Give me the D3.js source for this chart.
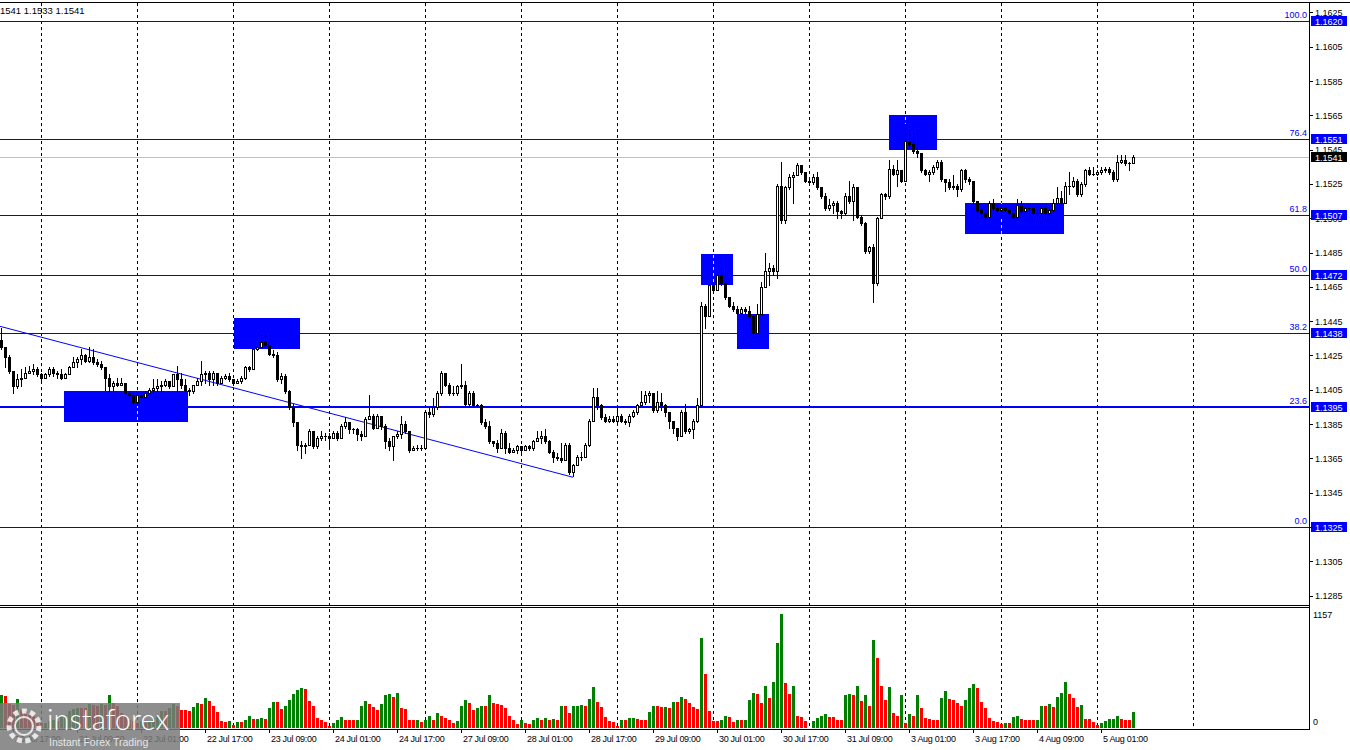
<!DOCTYPE html>
<html>
<head>
<meta charset="utf-8">
<script src="https://cdn.jsdelivr.net/npm/d3@7"></script>
<style>
body { margin: 0; background: #fff; }
svg { display: block; font-family: "Liberation Sans", Arial, sans-serif; }
</style>
</head>
<body>
<script>
// hourly bars, open of each bar = previous close
const firstOpen = 1.1434;
const closes = [
1.1430,1.1424,1.1416,1.1407,1.1411,1.1412,1.1415,1.1416,1.1417,1.1414,
1.1412,1.1414,1.1417,1.1415,1.1414,1.1412,1.1414,1.1418,1.1421,1.1423,
1.1425,1.1422,1.1424,1.1421,1.1420,1.1418,1.1412,1.1407,1.1409,1.1408,
1.1409,1.1403,1.1402,1.1398,1.1402,1.1401,1.1403,1.1405,1.1406,1.1407,
1.1408,1.1410,1.1407,1.1414,1.1411,1.1408,1.1405,1.1404,1.1408,1.1410,
1.1414,1.1415,1.1411,1.1415,1.1409,1.1412,1.1413,1.1411,1.1409,1.1410,
1.1412,1.1418,1.1417,1.1429,1.1430,1.1433,1.1431,1.1426,1.1425,1.1411,
1.1413,1.1404,1.1395,1.1386,1.1373,1.1372,1.1373,1.1381,1.1372,1.1377,
1.1378,1.1378,1.1377,1.1380,1.1377,1.1384,1.1386,1.1382,1.1382,1.1379,
1.1378,1.1388,1.1390,1.1383,1.1390,1.1384,1.1375,1.1372,1.1378,1.1379,
1.1385,1.1381,1.1370,1.1371,1.1371,1.1371,1.1392,1.1391,1.1395,1.1403,
1.1415,1.1408,1.1403,1.1403,1.1407,1.1408,1.1397,1.1403,1.1396,1.1396,
1.1386,1.1384,1.1375,1.1374,1.1371,1.1380,1.1371,1.1369,1.1370,1.1372,
1.1370,1.1372,1.1371,1.1375,1.1377,1.1378,1.1375,1.1369,1.1366,1.1365,
1.1364,1.1373,1.1357,1.1361,1.1366,1.1366,1.1373,1.1387,1.1401,1.1396,
1.1389,1.1387,1.1388,1.1387,1.1390,1.1387,1.1386,1.1390,1.1392,1.1396,
1.1398,1.1402,1.1403,1.1393,1.1398,1.1396,1.1392,1.1387,1.1383,1.1378,
1.1392,1.1381,1.1382,1.1387,1.1396,1.1454,1.1448,1.1466,1.1463,1.1472,
1.1467,1.1459,1.1454,1.1452,1.1450,1.1452,1.1451,1.1448,1.1438,1.1449,
1.1465,1.1474,1.1476,1.1474,1.1524,1.1504,1.1523,1.1529,1.1530,1.1536,
1.1532,1.1527,1.1526,1.1529,1.1523,1.1518,1.1511,1.1513,1.1514,1.1509,
1.1508,1.1518,1.1515,1.1523,1.1506,1.1502,1.1486,1.1488,1.1467,1.1505,
1.1519,1.1518,1.1534,1.1531,1.1533,1.1527,1.1550,1.1548,1.1544,1.1543,
1.1533,1.1531,1.1532,1.1535,1.1538,1.1528,1.1526,1.1523,1.1524,1.1522,
1.1533,1.1528,1.1527,1.1515,1.1510,1.1508,1.1506,1.1514,1.1511,1.1510,
1.1511,1.1510,1.1508,1.1506,1.1513,1.1509,1.1511,1.1511,1.1508,1.1508,
1.1511,1.1508,1.1510,1.1514,1.1517,1.1514,1.1524,1.1524,1.1527,1.1519,
1.1525,1.1533,1.1531,1.1531,1.1532,1.1533,1.1534,1.1532,1.1528,1.1538,
1.1539,1.1537,1.1537,1.1541];
const highs = [
1.1441,1.1430,1.1425,1.1416,1.1414,1.1417,1.1418,1.1419,1.1420,1.1418,
1.1415,1.1415,1.1418,1.1418,1.1416,1.1417,1.1415,1.1419,1.1424,1.1424,
1.1429,1.1426,1.1430,1.1429,1.1423,1.1422,1.1418,1.1414,1.1410,1.1412,
1.1412,1.1409,1.1404,1.1403,1.1403,1.1402,1.1404,1.1406,1.1411,1.1411,
1.1410,1.1411,1.1410,1.1414,1.1419,1.1415,1.1411,1.1406,1.1408,1.1412,
1.1422,1.1416,1.1416,1.1416,1.1415,1.1413,1.1414,1.1415,1.1411,1.1411,
1.1413,1.1419,1.1419,1.1430,1.1431,1.1437,1.1437,1.1431,1.1428,1.1427,
1.1415,1.1414,1.1405,1.1397,1.1386,1.1375,1.1374,1.1382,1.1381,1.1378,
1.1381,1.1380,1.1380,1.1381,1.1381,1.1385,1.1389,1.1386,1.1383,1.1383,
1.1381,1.1389,1.1402,1.1391,1.1391,1.1390,1.1385,1.1377,1.1378,1.1381,
1.1390,1.1387,1.1381,1.1372,1.1373,1.1373,1.1393,1.1395,1.1400,1.1404,
1.1416,1.1415,1.1409,1.1407,1.1408,1.1420,1.1410,1.1404,1.1404,1.1397,
1.1397,1.1388,1.1387,1.1375,1.1376,1.1382,1.1381,1.1374,1.1371,1.1373,
1.1372,1.1373,1.1373,1.1376,1.1381,1.1381,1.1382,1.1376,1.1370,1.1368,
1.1374,1.1374,1.1374,1.1362,1.1367,1.1369,1.1374,1.1388,1.1406,1.1406,
1.1397,1.1391,1.1390,1.1390,1.1396,1.1391,1.1388,1.1391,1.1393,1.1397,
1.1404,1.1404,1.1404,1.1402,1.1404,1.1403,1.1397,1.1391,1.1387,1.1383,
1.1393,1.1397,1.1383,1.1388,1.1400,1.1456,1.1455,1.1467,1.1468,1.1474,
1.1476,1.1468,1.1459,1.1456,1.1454,1.1453,1.1453,1.1454,1.1448,1.1455,
1.1468,1.1485,1.1479,1.1478,1.1525,1.1538,1.1524,1.1531,1.1532,1.1537,
1.1536,1.1532,1.1529,1.1531,1.1532,1.1523,1.1520,1.1516,1.1515,1.1515,
1.1510,1.1520,1.1527,1.1525,1.1523,1.1507,1.1503,1.1489,1.1490,1.1506,
1.1520,1.1520,1.1539,1.1536,1.1539,1.1531,1.1560,1.1557,1.1553,1.1557,
1.1542,1.1534,1.1533,1.1536,1.1539,1.1539,1.1528,1.1528,1.1530,1.1525,
1.1534,1.1534,1.1529,1.1527,1.1515,1.1511,1.1509,1.1515,1.1516,1.1513,
1.1512,1.1512,1.1510,1.1508,1.1516,1.1515,1.1512,1.1513,1.1511,1.1510,
1.1512,1.1512,1.1511,1.1516,1.1523,1.1521,1.1526,1.1532,1.1529,1.1528,
1.1526,1.1534,1.1535,1.1535,1.1533,1.1535,1.1535,1.1535,1.1533,1.1542,
1.1542,1.1542,1.1538,1.1542];
const lows = [
1.1429,1.1418,1.1415,1.1403,1.1406,1.1407,1.1412,1.1415,1.1414,1.1413,
1.1410,1.1412,1.1413,1.1413,1.1412,1.1411,1.1412,1.1414,1.1418,1.1418,
1.1420,1.1421,1.1421,1.1420,1.1419,1.1417,1.1405,1.1404,1.1404,1.1407,
1.1408,1.1400,1.1400,1.1397,1.1396,1.1400,1.1400,1.1403,1.1403,1.1404,
1.1404,1.1407,1.1406,1.1407,1.1404,1.1406,1.1404,1.1402,1.1403,1.1408,
1.1408,1.1409,1.1408,1.1408,1.1408,1.1409,1.1411,1.1410,1.1408,1.1409,
1.1409,1.1411,1.1416,1.1417,1.1428,1.1430,1.1430,1.1425,1.1424,1.1410,
1.1409,1.1403,1.1394,1.1384,1.1370,1.1365,1.1368,1.1374,1.1371,1.1371,
1.1376,1.1376,1.1372,1.1377,1.1376,1.1377,1.1383,1.1380,1.1380,1.1376,
1.1376,1.1378,1.1388,1.1382,1.1384,1.1382,1.1371,1.1370,1.1364,1.1377,
1.1377,1.1380,1.1369,1.1370,1.1370,1.1370,1.1371,1.1389,1.1390,1.1394,
1.1402,1.1407,1.1402,1.1402,1.1402,1.1406,1.1396,1.1395,1.1395,1.1395,
1.1385,1.1383,1.1374,1.1372,1.1369,1.1375,1.1368,1.1368,1.1369,1.1368,
1.1369,1.1370,1.1370,1.1370,1.1375,1.1374,1.1374,1.1368,1.1363,1.1364,
1.1363,1.1364,1.1356,1.1355,1.1361,1.1364,1.1367,1.1372,1.1387,1.1394,
1.1388,1.1386,1.1386,1.1386,1.1386,1.1386,1.1385,1.1384,1.1389,1.1391,
1.1396,1.1397,1.1398,1.1392,1.1392,1.1393,1.1390,1.1383,1.1380,1.1376,
1.1378,1.1380,1.1380,1.1377,1.1386,1.1395,1.1441,1.1449,1.1462,1.1463,
1.1466,1.1458,1.1453,1.1451,1.1449,1.1450,1.1450,1.1443,1.1435,1.1439,
1.1449,1.1465,1.1466,1.1472,1.1470,1.1502,1.1502,1.1522,1.1514,1.1530,
1.1531,1.1526,1.1525,1.1525,1.1522,1.1517,1.1510,1.1510,1.1508,1.1505,
1.1505,1.1507,1.1514,1.1504,1.1505,1.1501,1.1485,1.1485,1.1456,1.1466,
1.1505,1.1516,1.1517,1.1530,1.1524,1.1526,1.1527,1.1546,1.1543,1.1541,
1.1532,1.1530,1.1527,1.1531,1.1534,1.1527,1.1521,1.1522,1.1522,1.1518,
1.1521,1.1526,1.1525,1.1514,1.1505,1.1505,1.1503,1.1502,1.1510,1.1509,
1.1507,1.1509,1.1507,1.1505,1.1504,1.1508,1.1508,1.1508,1.1507,1.1506,
1.1507,1.1506,1.1507,1.1508,1.1513,1.1513,1.1514,1.1519,1.1523,1.1518,
1.1518,1.1524,1.1530,1.1530,1.1530,1.1531,1.1532,1.1531,1.1527,1.1527,
1.1537,1.1536,1.1533,1.1537];
const volumes = [
335,320,240,238,290,190,170,135,120,100,
50,55,70,85,70,120,135,170,190,205,
203,200,240,238,220,240,238,330,250,220,
150,120,85,70,50,70,50,70,100,135,
170,168,205,240,220,180,178,176,215,250,
248,300,270,225,160,70,60,70,35,65,
60,80,120,90,95,100,90,200,265,260,
190,220,285,345,385,405,395,270,225,100,
85,60,25,50,80,110,85,80,78,80,
225,270,240,215,180,240,330,345,315,360,
200,195,85,83,85,60,80,125,80,150,
125,100,85,50,75,220,285,250,185,200,
225,222,330,250,240,235,200,120,80,45,
85,55,45,85,100,80,100,85,88,80,
225,222,150,220,225,230,228,295,415,260,
215,115,70,65,25,80,78,100,105,95,
80,78,160,225,222,210,215,200,265,262,
315,295,250,215,195,915,550,175,75,72,
85,125,110,65,85,80,85,285,360,340,
255,425,305,470,860,1157,460,350,425,125,
110,75,5,75,100,125,145,115,113,85,
84,330,340,330,425,275,330,225,895,715,
425,285,420,155,120,335,50,145,125,330,
200,105,95,85,84,305,375,295,285,255,
225,285,405,445,405,265,205,105,75,60,
40,55,54,115,117,95,85,84,80,86,
225,222,245,215,315,355,467,350,300,215,
235,95,94,65,35,55,75,95,96,125,
95,85,84,160];

const fibLevels = ["0.0", "23.6", "38.2", "50.0", "61.8", "76.4", "100.0"];
const fibPrices = [1.1325, 1.1395, 1.1438, 1.1472, 1.1507, 1.1551, 1.1620];
const supportPrice = 1.1395;
const lastPrice = 1.1541;
const priceTicks = [1.1285, 1.1305, 1.1325, 1.1345, 1.1365, 1.1385, 1.1405, 1.1425, 1.1445,
  1.1465, 1.1485, 1.1505, 1.1525, 1.1545, 1.1565, 1.1585, 1.1605, 1.1625];
const volumeMax = 1157;

const timeLabelBars = [3, 19, 35, 51, 67, 83, 99, 115, 131, 147, 163, 179, 195, 211, 227, 243, 259, 275];
const timeLabels = ["20 Jul 17:00", "21 Jul 09:00", "22 Jul 01:00", "22 Jul 17:00", "23 Jul 09:00",
  "24 Jul 01:00", "24 Jul 17:00", "27 Jul 09:00", "28 Jul 01:00", "28 Jul 17:00", "29 Jul 09:00",
  "30 Jul 01:00", "30 Jul 17:00", "31 Jul 09:00", "3 Aug 01:00", "3 Aug 17:00", "4 Aug 09:00", "5 Aug 01:00"];
// day separators (00:00 bars)
const gridBars = [10, 34, 58, 82, 106, 130, 154, 178, 202, 226, 250, 274, 298];

// drawn zones: start bar, end bar, top price, bottom price
const boxStart = [15.75, 58.25, 175, 184, 222, 241];
const boxEnd = [46.75, 74.75, 183, 192, 234, 265.75];
const boxTop = [1.1404, 1.1447, 1.1484, 1.1449, 1.1565, 1.1514];
const boxBottom = [1.1386, 1.1429, 1.1466, 1.1429, 1.1545, 1.1496];

const trendBars = [-0.25, 143];
const trendPrices = [1.1442, 1.1354];

const headerText = "1541 1.1533 1.1541";

// layout
const W = 1350, H = 750;
const axisX = 1309;
const priceTop = 2, priceBottom = 604, volTop = 608, volBottom = 729;
const BLUE = "#0000ff";

const svg = d3.select("body").append("svg").attr("width", W).attr("height", H);
svg.append("rect").attr("width", W).attr("height", H).attr("fill", "#fff");

const x = d3.scaleLinear().domain([0, 283]).range([1, 1133]);
const y = d3.scaleLinear().domain([1.1325, 1.1620]).range([527, 21]);
const yv = d3.scaleLinear().domain([0, volumeMax]).range([728, 614]);

const defs = svg.append("defs");
defs.append("clipPath").attr("id", "pricePane")
  .append("rect").attr("x", 0).attr("y", priceTop).attr("width", axisX).attr("height", priceBottom - priceTop);
const boxClip = defs.append("clipPath").attr("id", "boxClip");
boxStart.forEach((b, i) => {
  boxClip.append("rect")
    .attr("x", x(b)).attr("y", y(boxTop[i]))
    .attr("width", x(boxEnd[i]) - x(b)).attr("height", y(boxBottom[i]) - y(boxTop[i]));
});

// vertical day grid
const grid = svg.append("g").attr("shape-rendering", "crispEdges");
grid.selectAll("line").data(gridBars).enter().append("line")
  .attr("x1", d => x(d) + 0.5).attr("x2", d => x(d) + 0.5)
  .attr("y1", priceTop + 1).attr("y2", volBottom)
  .attr("stroke", "#000").attr("stroke-dasharray", "3,3");

const pane = svg.append("g").attr("clip-path", "url(#pricePane)").attr("shape-rendering", "crispEdges");

// fibonacci levels
pane.selectAll(".fib").data(fibPrices).enter().append("line")
  .attr("class", "fib")
  .attr("x1", 0).attr("x2", axisX)
  .attr("y1", d => Math.round(y(d)) + 0.5).attr("y2", d => Math.round(y(d)) + 0.5)
  .attr("stroke", BLUE).attr("stroke-width", 1);
pane.append("line")
  .attr("x1", 0).attr("x2", axisX)
  .attr("y1", Math.round(y(supportPrice))).attr("y2", Math.round(y(supportPrice)))
  .attr("stroke", BLUE).attr("stroke-width", 2);
pane.append("line")
  .attr("x1", 0).attr("x2", axisX)
  .attr("y1", Math.round(y(lastPrice)) + 0.5).attr("y2", Math.round(y(lastPrice)) + 0.5)
  .attr("stroke", "#c0c0c0");

// trend line
pane.append("line")
  .attr("x1", x(trendBars[0])).attr("y1", y(trendPrices[0]))
  .attr("x2", x(trendBars[1])).attr("y2", y(trendPrices[1]))
  .attr("stroke", BLUE).attr("stroke-width", 1).attr("shape-rendering", "auto");

// zones
pane.selectAll(".zone").data(boxStart).enter().append("rect")
  .attr("class", "zone")
  .attr("x", d => x(d)).attr("y", (d, i) => y(boxTop[i]))
  .attr("width", (d, i) => x(boxEnd[i]) - x(d))
  .attr("height", (d, i) => y(boxBottom[i]) - y(boxTop[i]))
  .attr("fill", BLUE);
// grid dashes show through the zones in yellow
pane.append("g").attr("clip-path", "url(#boxClip)")
  .selectAll("line").data(gridBars).enter().append("line")
  .attr("x1", d => x(d) + 0.5).attr("x2", d => x(d) + 0.5)
  .attr("y1", priceTop + 1).attr("y2", volBottom)
  .attr("stroke", "#ffff00").attr("stroke-dasharray", "3,3");

// candles
const bars = closes.map((c, i) => ({
  i: i, o: i === 0 ? firstOpen : closes[i - 1], h: highs[i], l: lows[i], c: c
}));
const cg = pane.append("g");
bars.forEach(b => {
  const cx = x(b.i);
  const oy = Math.round(y(b.o)), cy = Math.round(y(b.c));
  cg.append("line")
    .attr("x1", cx + 0.5).attr("x2", cx + 0.5)
    .attr("y1", Math.round(y(b.h))).attr("y2", Math.round(y(b.l)) + 1)
    .attr("stroke", "#000");
  if (oy === cy) {
    cg.append("rect").attr("x", cx - 1).attr("y", cy).attr("width", 3).attr("height", 1).attr("fill", "#000");
  } else if (b.c > b.o) {
    cg.append("rect").attr("x", cx - 0.5).attr("y", cy + 0.5)
      .attr("width", 2).attr("height", oy - cy)
      .attr("fill", "#fff").attr("stroke", "#000");
  } else {
    cg.append("rect").attr("x", cx - 1).attr("y", oy)
      .attr("width", 3).attr("height", cy - oy + 1).attr("fill", "#000");
  }
});

// volumes: green when higher than the bar before
svg.append("g").attr("shape-rendering", "crispEdges")
  .selectAll("rect").data(volumes).enter().append("rect")
  .attr("x", (d, i) => x(i) - 1)
  .attr("y", d => Math.round(yv(d)))
  .attr("width", 3)
  .attr("height", d => 728 - Math.round(yv(d)))
  .attr("fill", (d, i) => (i === 0 || d > volumes[i - 1]) ? "#008000" : "#ff0000");

// frame
const frame = svg.append("g").attr("stroke", "#000").attr("shape-rendering", "crispEdges");
frame.append("line").attr("x1", 0).attr("x2", W).attr("y1", priceTop + 0.5).attr("y2", priceTop + 0.5);
frame.append("line").attr("x1", 0).attr("x2", axisX).attr("y1", 605.5).attr("y2", 605.5);
frame.append("line").attr("x1", 0).attr("x2", axisX).attr("y1", 607.5).attr("y2", 607.5);
frame.append("line").attr("x1", 0).attr("x2", axisX).attr("y1", volBottom + 0.5).attr("y2", volBottom + 0.5);
frame.append("line").attr("x1", axisX + 0.5).attr("x2", axisX + 0.5).attr("y1", priceTop).attr("y2", volBottom + 1);

// price axis
const fmt = d3.format(".4f");
const pa = svg.append("g").attr("font-size", "9px");
pa.selectAll("line").data(priceTicks).enter().append("line")
  .attr("x1", axisX).attr("x2", axisX + 4)
  .attr("y1", d => Math.round(y(d)) + 0.5).attr("y2", d => Math.round(y(d)) + 0.5)
  .attr("stroke", "#000").attr("shape-rendering", "crispEdges");
pa.selectAll("text").data(priceTicks).enter().append("text")
  .attr("x", 1315).attr("y", d => y(d) + 3.5)
  .attr("fill", "#000").text(d => fmt(d));

// volume axis
svg.append("text").attr("x", 1313).attr("y", 618).attr("font-size", "9px").text(volumeMax);
svg.append("text").attr("x", 1313).attr("y", 725).attr("font-size", "9px").text("0");

// fib labels and price tags
const fl = svg.append("g").attr("font-size", "9px");
fibPrices.forEach((p, i) => {
  const py = Math.round(y(p));
  fl.append("text").attr("x", 1307).attr("y", py - 3)
    .attr("text-anchor", "end").attr("fill", BLUE).text(fibLevels[i]);
  fl.append("rect").attr("x", 1311).attr("y", py - 5).attr("width", 36).attr("height", 10)
    .attr("fill", BLUE).attr("shape-rendering", "crispEdges");
  fl.append("text").attr("x", 1315).attr("y", py + 3.5).attr("fill", "#fff").text(fmt(p));
});
const ly = Math.round(y(lastPrice));
fl.append("rect").attr("x", 1311).attr("y", ly - 5).attr("width", 36).attr("height", 10)
  .attr("fill", "#000").attr("shape-rendering", "crispEdges");
fl.append("text").attr("x", 1315).attr("y", ly + 3.5).attr("fill", "#fff").text(fmt(lastPrice));

// time axis
const ta = svg.append("g").attr("font-size", "9px");
ta.selectAll("line").data(timeLabelBars).enter().append("line")
  .attr("x1", d => x(d) + 0.5).attr("x2", d => x(d) + 0.5)
  .attr("y1", volBottom).attr("y2", volBottom + 4)
  .attr("stroke", "#000").attr("shape-rendering", "crispEdges");
ta.selectAll("text").data(timeLabelBars).enter().append("text")
  .attr("x", d => x(d) + 2).attr("y", 742)
  .attr("letter-spacing", "-0.3px")
  .text((d, i) => timeLabels[i]);

// header
svg.append("text").attr("x", 0).attr("y", 14).attr("font-size", "9.5px").text(headerText);

// watermark
const wm = svg.append("g");
wm.append("rect").attr("x", 0).attr("y", 703).attr("width", 180).attr("height", 47)
  .attr("fill", "#7a7a7a").attr("opacity", 0.85);
wm.append("circle").attr("cx", 24).attr("cy", 726).attr("r", 15)
  .attr("fill", "none").attr("stroke", "#fff").attr("stroke-width", 5)
  .attr("stroke-dasharray", "5,3.5").attr("opacity", 0.8);
wm.append("circle").attr("cx", 24).attr("cy", 726).attr("r", 9)
  .attr("fill", "none").attr("stroke", "#fff").attr("stroke-width", 2).attr("opacity", 0.8);
wm.append("text").attr("x", 47).attr("y", 730)
  .attr("font-family", "Lato, 'Open Sans', sans-serif").attr("font-weight", 300)
  .attr("font-size", "29px").attr("fill", "#fff").text("instaforex");
wm.append("text").attr("x", 49).attr("y", 746)
  .attr("font-size", "10.5px").attr("fill", "#e6e6e6").text("Instant Forex Trading");
</script>
</body>
</html>
